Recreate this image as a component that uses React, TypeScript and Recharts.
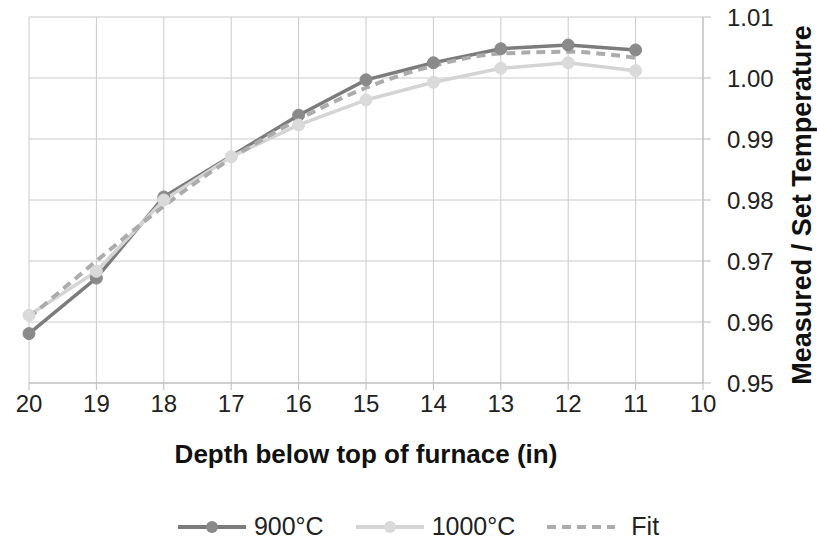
import React from "react";
import {
  LineChart,
  Line,
  XAxis,
  YAxis,
  CartesianGrid,
  Legend,
  Label,
} from "recharts";

const depths = [20, 19, 18, 17, 16, 15, 14, 13, 12, 11];
const t900 = [0.9581, 0.9672, 0.9805, null, 0.9939, 0.9997, 1.0025, 1.0048, 1.0054, 1.0046];
const t1000 = [0.9611, 0.9683, 0.9800, 0.9871, 0.9923, 0.9964, 0.9993, 1.0016, 1.0025, 1.0012];
const fit = [0.9607, 0.9700, 0.9790, 0.9868, 0.9932, 0.9984, 1.0020, 1.0040, 1.0043, 1.0033];
const xTicks = [20, 19, 18, 17, 16, 15, 14, 13, 12, 11, 10];
const yTicks = [0.95, 0.96, 0.97, 0.98, 0.99, 1.0, 1.01];

const data = depths.map((d, i) => ({
  depth: d,
  t900: t900[i],
  t1000: t1000[i],
  fit: fit[i],
}));

const FONT = '"Liberation Sans", Arial, Helvetica, sans-serif';

const legendItems = [
  { label: "900°C", stroke: "#7c7c7c", dot: "#8a8a8a", dash: undefined },
  { label: "1000°C", stroke: "#d4d4d4", dot: "#dadada", dash: undefined },
  { label: "Fit", stroke: "#acacac", dot: null, dash: "9 6" },
];

function ChartLegend() {
  return (
    <div
      style={{
        display: "flex",
        justifyContent: "center",
        alignItems: "center",
        gap: 30,
        fontFamily: FONT,
        fontSize: 25,
        color: "#222",
        paddingLeft: 18,
      }}
    >
      {legendItems.map((it) => (
        <div key={it.label} style={{ display: "flex", alignItems: "center" }}>
          <svg width={72} height={20} style={{ marginRight: it.dot ? 6 : 14 }}>
            <line
              x1={2}
              y1={10}
              x2={70}
              y2={10}
              stroke={it.stroke}
              strokeWidth={4}
              strokeDasharray={it.dash}
            />
            {it.dot && <circle cx={36} cy={10} r={6} fill={it.dot} />}
          </svg>
          <span>{it.label}</span>
        </div>
      ))}
    </div>
  );
}

export default function App() {
  return (
    <div style={{ position: "absolute", left: 0, top: 0, background: "#fff" }}>
      <LineChart
        width={817}
        height={540}
        data={data}
        margin={{ top: 17, right: 20, left: 29, bottom: 77 }}
      >
        <CartesianGrid stroke="#cacaca" strokeWidth={1} />
        <XAxis
          dataKey="depth"
          type="number"
          domain={[10, 20]}
          reversed
          ticks={xTicks}
          interval={0}
          height={80}
          tickSize={7}
          tickMargin={5}
          stroke="#bbbbbb"
          tick={{ fill: "#222", fontSize: 24, fontFamily: FONT }}
        >
          <Label
            content={({ viewBox }: any) => {
              const cx = viewBox.x + viewBox.width / 2;
              return (
                <text
                  x={cx}
                  y={463}
                  textAnchor="middle"
                  fill="#111"
                  fontSize={26}
                  fontWeight={700}
                  fontFamily={FONT}
                >
                  Depth below top of furnace (in)
                </text>
              );
            }}
          />
        </XAxis>
        <YAxis
          orientation="right"
          type="number"
          domain={[0.95, 1.01]}
          ticks={yTicks}
          interval={0}
          width={94}
          tickSize={8}
          tickMargin={16}
          stroke="#bbbbbb"
          tickFormatter={(v: number) => v.toFixed(2)}
          tick={{ fill: "#222", fontSize: 24, fontFamily: FONT }}
        >
          <Label
            content={() => {
              const cx = 811;
              const cy = 205;
              return (
                <text
                  x={cx}
                  y={cy}
                  transform={`rotate(-90, ${cx}, ${cy})`}
                  textAnchor="middle"
                  fill="#111"
                  fontSize={27}
                  fontWeight={700}
                  fontFamily={FONT}
                >
                  Measured / Set Temperature
                </text>
              );
            }}
          />
        </YAxis>
        <Legend
          layout="horizontal"
          verticalAlign="middle"
          align="center"
          wrapperStyle={{ top: 512, left: 0, width: 817 }}
          content={() => <ChartLegend />}
        />
        <Line
          dataKey="t900"
          name="900°C"
          stroke="#7c7c7c"
          strokeWidth={3.5}
          connectNulls
          dot={{ r: 6, fill: "#8a8a8a", stroke: "#8a8a8a", strokeWidth: 1 }}
          isAnimationActive={false}
        />
        <Line
          dataKey="t1000"
          name="1000°C"
          stroke="#d4d4d4"
          strokeWidth={3.5}
          dot={{ r: 6, fill: "#dadada", stroke: "#dadada", strokeWidth: 1 }}
          isAnimationActive={false}
        />
        <Line
          dataKey="fit"
          name="Fit"
          type="monotone"
          stroke="#acacac"
          strokeWidth={4}
          strokeDasharray="9 6"
          dot={false}
          isAnimationActive={false}
        />
      </LineChart>
    </div>
  );
}
